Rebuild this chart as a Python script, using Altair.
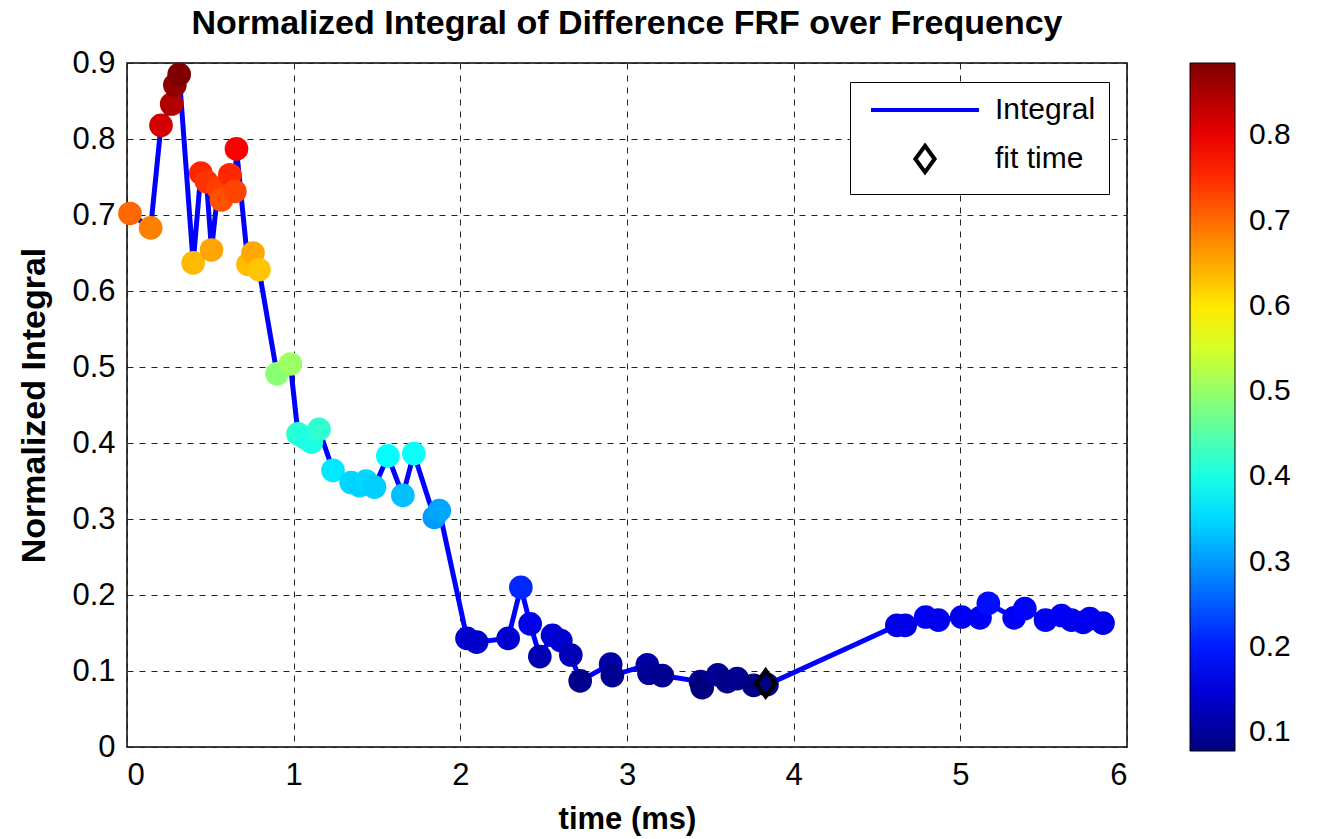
import altair as alt
import pandas as pd

# ---- data ----
time_ms = [0.018, 0.142, 0.204, 0.268, 0.287, 0.313, 0.397, 0.443, 0.477, 0.507,
           0.547, 0.567, 0.617, 0.647, 0.657, 0.726, 0.756, 0.792, 0.900, 0.980,
           1.026, 1.066, 1.106, 1.152, 1.236, 1.345, 1.395, 1.435, 1.485, 1.565,
           1.655, 1.721, 1.844, 1.874, 2.040, 2.098, 2.287, 2.363, 2.419, 2.477,
           2.553, 2.603, 2.663, 2.719, 2.902, 2.912, 3.122, 3.132, 3.212, 3.441,
           3.451, 3.545, 3.601, 3.661, 3.760, 3.840, 4.619, 4.669, 4.792, 4.868,
           5.008, 5.118, 5.168, 5.323, 5.387, 5.511, 5.607, 5.667, 5.737, 5.777,
           5.856]
integral = [0.702, 0.683, 0.818, 0.846, 0.871, 0.885, 0.637, 0.755, 0.744, 0.654,
            0.735, 0.720, 0.753, 0.731, 0.787, 0.635, 0.650, 0.628, 0.491, 0.504,
            0.412, 0.407, 0.401, 0.418, 0.364, 0.348, 0.344, 0.350, 0.342, 0.383,
            0.331, 0.386, 0.302, 0.311, 0.143, 0.138, 0.143, 0.210, 0.162, 0.119,
            0.147, 0.140, 0.121, 0.087, 0.109, 0.094, 0.108, 0.097, 0.094, 0.086,
            0.078, 0.095, 0.086, 0.090, 0.081, 0.082, 0.160, 0.160, 0.171, 0.167,
            0.171, 0.170, 0.189, 0.170, 0.182, 0.167, 0.173, 0.167, 0.164, 0.169,
            0.163]
fit_time = [3.832]
fit_value = [0.0836]
series_names = ["Integral", "fit time"]
series_colors = ["#0000FF", "#000000"]
x_ticks = [0, 1, 2, 3, 4, 5, 6]
y_ticks = [0.0, 0.1, 0.2, 0.3, 0.4, 0.5, 0.6, 0.7, 0.8, 0.9]
cbar_ticks = [0.1, 0.2, 0.3, 0.4, 0.5, 0.6, 0.7, 0.8]
jet_colors = ["#00007F", "#0000FF", "#007FFF", "#00FFFF", "#7FFF7F",
              "#FFFF00", "#FF7F00", "#FF0000", "#7F0000"]

FONT = "Liberation Sans"

df = pd.DataFrame({"t": time_ms, "v": integral})
fit_df = pd.DataFrame({"t": fit_time, "v": fit_value, "series": ["fit time"]})

vmin, vmax = min(integral), max(integral)
color_domain = [vmin + i * (vmax - vmin) / (len(jet_colors) - 1) for i in range(len(jet_colors))]

x_enc = alt.X("t:Q", scale=alt.Scale(domain=[0, 6], nice=False, zero=False),
              axis=alt.Axis(values=x_ticks, title="time (ms)", format="d"))
y_enc = alt.Y("v:Q", scale=alt.Scale(domain=[0, 0.9], nice=False),
              axis=alt.Axis(values=y_ticks, title="Normalized Integral",
                            labelExpr="datum.value == 0 ? '0' : format(datum.value, '.1f')"))

line = alt.Chart(df).mark_line(color="#0000FF", strokeWidth=5).encode(x=x_enc, y=y_enc)

points = alt.Chart(df).mark_circle(size=560, opacity=1).encode(
    x=x_enc, y=y_enc,
    color=alt.Color("v:Q",
                    scale=alt.Scale(domain=color_domain, range=jet_colors, interpolate="rgb"),
                    legend=alt.Legend(orient="none", legendX=1063, legendY=0,
                                      direction="vertical", title=None,
                                      gradientLength=688, gradientThickness=45,
                                      gradientStrokeColor="black", gradientStrokeWidth=1,
                                      values=cbar_ticks, format=".1f",
                                      labelFontSize=30, labelFont=FONT, labelColor="black",
                                      labelOffset=14, padding=0)),
)

line_path = "M-4.5,0L4.5,0"
diamond_path = "M0,-1.1L0.8,0L0,1.1L-0.8,0Z"
series_legend = alt.Legend(orient="none", legendX=723, legendY=19, title=None,
                           strokeColor="black", fillColor="white", padding=13,
                           labelFontSize=30, labelFont=FONT, labelColor="black",
                           symbolSize=576, symbolStrokeWidth=4, symbolOffset=47,
                           labelOffset=55, rowPadding=12)

diamond = alt.Chart(fit_df).mark_point(filled=False, strokeWidth=4, size=576, opacity=1).encode(
    x=x_enc, y=y_enc,
    shape=alt.Shape("series:N", scale=alt.Scale(domain=series_names, range=[line_path, diamond_path]),
                    legend=series_legend),
    stroke=alt.Stroke("series:N", scale=alt.Scale(domain=series_names, range=series_colors),
                      legend=series_legend),
)

chart = alt.layer(line, points, diamond).properties(
    width=1000, height=684,
    title=alt.TitleParams("Normalized Integral of Difference FRF over Frequency",
                          fontSize=34, fontWeight="bold", font=FONT, color="black",
                          anchor="middle", offset=6),
    autosize=alt.AutoSizeParams(type="none"),
    padding={"left": 127, "top": 63, "right": 196, "bottom": 92},
).configure_view(stroke="black", strokeWidth=1.5).configure_axis(
    labelFont=FONT, labelFontSize=31, labelColor="black",
    titleFont=FONT, titleFontSize=31, titleFontWeight="bold", titleColor="black",
    grid=True, gridColor="#222222", gridDash=[6, 6], gridWidth=1,
    ticks=False, tickSize=0, domain=False,
).configure_axisX(labelPadding=13, titlePadding=14).configure_axisY(
    labelPadding=12, titlePadding=20, titleFontSize=34)

chart.save("out.html", embed_options={"renderer": "svg", "actions": False})
